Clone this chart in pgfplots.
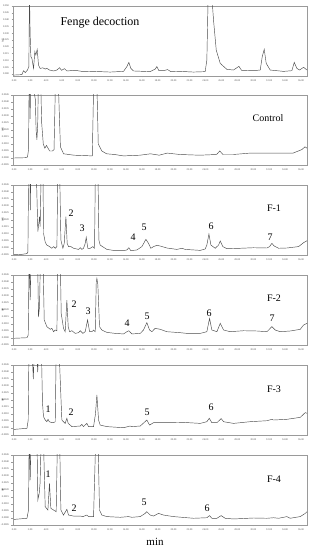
\documentclass[border=0pt]{standalone}
\usepackage{pgfplots}
\pgfplotsset{compat=1.18}
\usepackage{pgfplotstable}
\usepackage{fontspec}
\setmainfont{Liberation Serif}
\definecolor{trace}{HTML}{4A4A4A}
\definecolor{framec}{HTML}{9A9A9A}

\pgfplotstableread{
t v
0 -0.0008
0.96 -0.0005
1.17 0.0024
1.38 0.0010
1.67 0.0029
1.84 0.0054
1.92 0.0600
2.00 0.0295
2.09 0.0127
2.22 0.0115
2.43 0.0041
2.59 0.0164
2.72 0.0139
2.89 0.0181
3.05 0.0066
3.26 0.0041
3.60 0.0045
3.89 0.0036
4.10 0.0041
4.43 0.0029
4.94 0.0022
5.36 0.0029
5.69 0.0046
5.94 0.0027
6.32 0.0039
6.61 0.0022
7.66 0.0027
8.70 0.0017
9.96 0.0019
12.05 0.0014
13.72 0.0019
14.14 0.0054
14.39 0.0085
14.64 0.0041
14.98 0.0022
17.07 0.0017
17.70 0.0036
17.90 0.0054
18.16 0.0024
18.74 0.0024
19.25 0.0032
19.67 0.0017
20.84 0.0019
22.50 0.0014
23.97 0.0017
24.18 0.0103
24.35 0.0600
24.77 0.0600
25.02 0.0395
25.36 0.0175
25.86 0.0078
26.69 0.0034
27.53 0.0029
28.20 0.0056
28.54 0.0027
30.04 0.0024
30.88 0.0029
31.13 0.0127
31.38 0.0181
31.63 0.0078
32.13 0.0029
33.80 0.0019
34.85 0.0024
35.15 0.0085
35.48 0.0041
35.82 0.0029
36.32 0.0049
36.75 0.0029
}\fenge

\pgfplotstableread{
t v
0 0.0000
1.38 0.00002
1.67 0.00007
1.80 0.0006
1.90 0.0070
2.00 0.0028
2.10 0.0070
2.40 0.0050
2.65 0.0042
2.75 0.0020
2.85 0.0013
2.95 0.0024
3.05 0.0060
3.30 0.0060
3.45 0.0025
3.65 0.0010
3.85 0.0007
4.05 0.0009
4.25 0.0007
4.45 0.0005
4.80 0.0005
5.00 0.0006
5.20 0.0060
5.50 0.0060
5.80 0.0008
6.20 0.0003
7.50 0.0002
9.80 0.00015
10.00 0.0060
10.35 0.0060
10.55 0.0010
11.00 0.0005
11.60 0.0003
12.60 0.00025
13.70 0.00015
15.80 0.0002
17.10 0.0003
18.20 0.0002
19.20 0.00035
20.80 0.00025
23.30 0.0002
25.40 0.00025
25.80 0.0005
26.20 0.00025
27.50 0.00025
29.60 0.00035
31.70 0.00035
35.00 0.00035
36.10 0.0006
36.50 0.0008
36.75 0.0007
}\control

\pgfplotstableread{
t v
0 -0.00048
1.0 -0.00045
1.6 -0.00040
1.72 -0.0003
1.82 0.0060
1.95 0.0060
2.02 0.0027
2.10 0.0060
2.75 0.0060
2.97 0.00117
3.10 0.0018
3.18 0.00224
3.26 0.00152
3.40 0.0060
3.60 0.0060
3.68 0.00105
3.90 0.0004
4.10 0.00021
4.44 0.0001
4.73 -0.00002
4.94 0.0001
5.15 -0.00002
5.36 0.0001
5.48 0.0060
5.69 0.0060
5.86 0.00057
6.11 -0.00002
6.28 0.00033
6.49 0.00224
6.65 0.00033
6.82 0.0001
7.11 0.0001
7.45 -0.00002
8.08 -0.0001
8.28 0.00002
8.49 -0.0001
8.70 -0.00002
8.90 0.0003
9.04 0.00076
9.18 0.0002
9.25 -0.00002
9.54 -0.00002
9.87 0.0001
10.08 -0.00002
10.20 0.0060
10.50 0.0060
10.63 0.00057
10.79 0.00021
11.63 -0.0001
12.68 -0.00019
13.72 -0.00019
14.14 -0.00014
14.39 0.00002
14.64 -0.00019
15.40 -0.00014
16.03 0.0001
16.53 0.00062
16.86 0.00033
17.15 -0.00002
17.49 0.0001
17.91 0.00019
18.33 0.00014
19.16 0.0000
20.42 -0.0001
21.05 -0.00002
21.46 -0.0001
23.35 -0.00017
23.97 -0.00007
24.18 0.00021
24.44 0.0010
24.69 0.00021
25.23 -0.00002
25.65 0.00021
25.86 0.0005
26.19 0.0001
26.69 -0.00005
28.37 -0.00002
30.04 0.00002
31.72 0.0
32.05 0.0001
32.34 0.00033
32.64 0.00014
33.18 -0.00002
34.23 0.0
35.69 0.0001
36.32 0.00038
36.75 0.00052
}\fone

\pgfplotstableread{
t v
0 -0.00002
1.6 0.00002
1.76 0.00021
1.88 0.0060
2.01 0.00271
2.13 0.0060
2.93 0.0060
3.05 0.0015
3.18 0.00224
3.30 0.0060
3.60 0.0060
3.77 0.00129
4.10 0.00081
4.52 0.00062
4.73 0.00069
4.94 0.00045
5.15 0.00057
5.36 0.00052
5.48 0.0060
5.77 0.0060
5.90 0.00176
6.19 0.00069
6.40 0.00045
6.61 0.00271
6.78 0.00081
6.95 0.00045
7.24 0.00052
7.66 0.00033
8.08 0.00038
8.28 0.00052
8.62 0.00033
8.91 0.00045
9.21 0.00129
9.46 0.00045
9.75 0.00045
9.96 0.00057
10.17 0.00045
10.30 0.0040
10.38 0.00426
10.50 0.0038
10.71 0.00081
11.00 0.00057
11.63 0.0004
12.68 0.00033
13.72 0.00029
14.14 0.00045
14.39 0.00052
14.77 0.00029
15.82 0.00033
16.23 0.00057
16.65 0.0011
16.99 0.00057
17.28 0.00045
17.70 0.00069
18.33 0.00062
19.16 0.00045
20.84 0.00038
21.67 0.00033
23.35 0.00033
24.18 0.00045
24.52 0.0014
24.81 0.00057
25.44 0.00045
25.86 0.00105
26.28 0.00057
27.11 0.00045
28.79 0.00052
30.46 0.0005
31.72 0.00045
32.34 0.00081
32.76 0.00057
33.39 0.00045
34.64 0.0005
35.90 0.00062
36.32 0.00093
36.75 0.00105
}\ftwo

\pgfplotstableread{
t v
0 -0.0001
1.6 -0.00002
1.76 0.00057
1.86 0.0060
2.20 0.0060
2.40 0.0035
2.55 0.0060
2.80 0.0060
2.95 0.0040
3.10 0.0060
3.40 0.0060
3.55 0.0018
3.68 0.00081
3.90 0.00057
4.10 0.00045
4.25 0.00062
4.40 0.00045
4.73 0.00038
4.94 0.00038
5.15 0.00045
5.28 0.0060
5.60 0.0060
5.98 0.00057
6.40 0.00033
6.61 0.00069
6.78 0.00033
7.24 0.0001
8.28 0.00014
8.49 0.00026
8.70 0.0001
9.12 0.00033
9.33 0.0001
9.96 0.0001
10.20 0.0010
10.38 0.00236
10.59 0.00057
10.79 0.00021
11.63 0.0001
13.72 0.00002
14.55 0.00014
14.77 0.0001
15.82 0.00014
16.65 0.00057
16.99 0.00021
17.49 0.00038
19.16 0.00038
21.25 0.0004
23.35 0.00033
24.18 0.00045
24.48 0.00069
24.81 0.00038
25.44 0.00038
25.98 0.00067
26.28 0.00045
27.53 0.00033
29.62 0.00045
31.72 0.00052
32.34 0.00062
32.55 0.00057
34.23 0.00062
35.90 0.00076
36.53 0.0011
36.75 0.00105
}\fthree

\pgfplotstableread{
t v
0 -0.0001
1.6 -0.00002
1.80 0.00057
1.88 0.0060
2.01 0.00271
2.13 0.0060
2.85 0.0060
2.97 0.00129
3.14 0.00176
3.25 0.0025
3.40 0.0060
3.65 0.0060
3.89 0.00081
4.23 0.00057
4.43 0.00248
4.60 0.00069
4.94 0.00057
5.27 0.00045
5.44 0.0060
5.69 0.0060
5.86 0.00057
6.19 0.00021
6.61 0.00062
6.82 0.00021
7.45 0.00014
8.28 0.00014
8.62 0.0001
9.12 0.00021
9.33 0.0001
9.96 0.0001
10.25 0.0060
10.50 0.0060
10.71 0.00057
11.00 0.00021
11.63 0.0001
13.31 0.00005
14.35 0.0001
14.77 0.00005
15.82 0.0001
16.44 0.00033
16.65 0.00045
17.07 0.00021
17.49 0.00014
18.12 0.00033
18.74 0.00021
20.00 0.0001
22.51 -0.00002
24.18 0.00002
24.52 0.00017
24.81 -0.00002
25.44 -0.00002
25.98 0.00017
26.48 -0.00002
27.53 -0.00007
30.04 0.0
31.72 -0.00002
32.55 0.00002
33.18 -0.00002
34.23 0.0001
34.64 -0.00002
35.90 0.0001
36.53 0.00033
36.75 0.00045
}\ffour

\pgfplotsset{
  chrom/.style={
    scale only axis, width=294pt, height=70pt, anchor=south west,
    xmin=-0.15, xmax=36.75,
    xtick={0,2,4,6,8,10,12,14,16,18,20,22,24,26,28,30,32,34,36},
    minor x tick num=1,
    scaled x ticks=false, scaled y ticks=false,
    axis line style={framec, line width=0.4pt},
    tick style={framec, line width=0.3pt},
    tick align=outside,
    major tick length=1.5pt, minor tick length=1pt,
    xtick pos=bottom, ytick pos=left,
    tick label style={font=\fontsize{2.6}{3}\selectfont, text=black!70},
    xticklabel style={/pgf/number format/.cd, fixed, fixed zerofill, precision=2, assume math mode=true},
    yticklabel style={/pgf/number format/.cd, fixed, fixed zerofill, precision=4, assume math mode=true},
    every axis y label/.style={at={(axis description cs:-0.035,0.5)}, rotate=90, anchor=center, font=\fontsize{2.6}{3}\selectfont},
    ylabel={AU},
    ymin=-0.0005, ymax=0.0045,
    ytick={-0.0005,0,0.0005,0.001,0.0015,0.002,0.0025,0.003,0.0035,0.004,0.0045},
    xticklabel shift=-1pt, yticklabel shift=-1pt,
  },
  tr/.style={trace, line width=0.45pt, no marks},
}

\begin{document}
\begin{tikzpicture}[x=1pt,y=1pt]
\path[use as bounding box] (0pt,0pt) rectangle (312pt,550pt);

\begin{axis}[chrom, at={(13pt,474pt)}, ymin=-0.0015, ymax=0.050,
  ytick={0,0.005,0.01,0.015,0.02,0.025,0.03,0.035,0.04,0.045,0.05},
  yticklabel style={/pgf/number format/.cd, fixed, fixed zerofill, precision=3}]
\addplot[tr] table[x=t,y=v]{\fenge};
\end{axis}

\begin{axis}[chrom, at={(13pt,385pt)}]
\addplot[tr] table[x=t,y=v]{\control};
\end{axis}

\begin{axis}[chrom, at={(13pt,295pt)}]
\addplot[tr] table[x=t,y=v]{\fone};
\end{axis}

\begin{axis}[chrom, at={(13pt,205pt)}]
\addplot[tr] table[x=t,y=v]{\ftwo};
\end{axis}

\begin{axis}[chrom, at={(13pt,115pt)}]
\addplot[tr] table[x=t,y=v]{\fthree};
\end{axis}

\begin{axis}[chrom, at={(13pt,25pt)}]
\addplot[tr] table[x=t,y=v]{\ffour};
\end{axis}

\begin{scope}[every node/.style={inner sep=0pt, font=\fontsize{10}{10}\selectfont}]
\node[font=\fontsize{12}{12}\selectfont] at (100pt,527pt) {Fenge decoction};
\node at (268pt,432pt) {Control};
\node at (274pt,342pt) {F-1};
\node at (71pt,337pt) {2};
\node at (82pt,322pt) {3};
\node at (133pt,313pt) {4};
\node at (144pt,323pt) {5};
\node at (211pt,324pt) {6};
\node at (270pt,313pt) {7};
\node at (274pt,252pt) {F-2};
\node at (74pt,246pt) {2};
\node at (88pt,239pt) {3};
\node at (127pt,227pt) {4};
\node at (147pt,234pt) {5};
\node at (209pt,237pt) {6};
\node at (272pt,232pt) {7};
\node at (274pt,161pt) {F-3};
\node at (48pt,141pt) {1};
\node at (71pt,138pt) {2};
\node at (147pt,138pt) {5};
\node at (211pt,143pt) {6};
\node at (274pt,71pt) {F-4};
\node at (48pt,76pt) {1};
\node at (74pt,42pt) {2};
\node at (144pt,48pt) {5};
\node at (207pt,42pt) {6};
\node[font=\fontsize{11}{11}\selectfont] at (155pt,8pt) {min};
\end{scope}
\end{tikzpicture}
\end{document}
